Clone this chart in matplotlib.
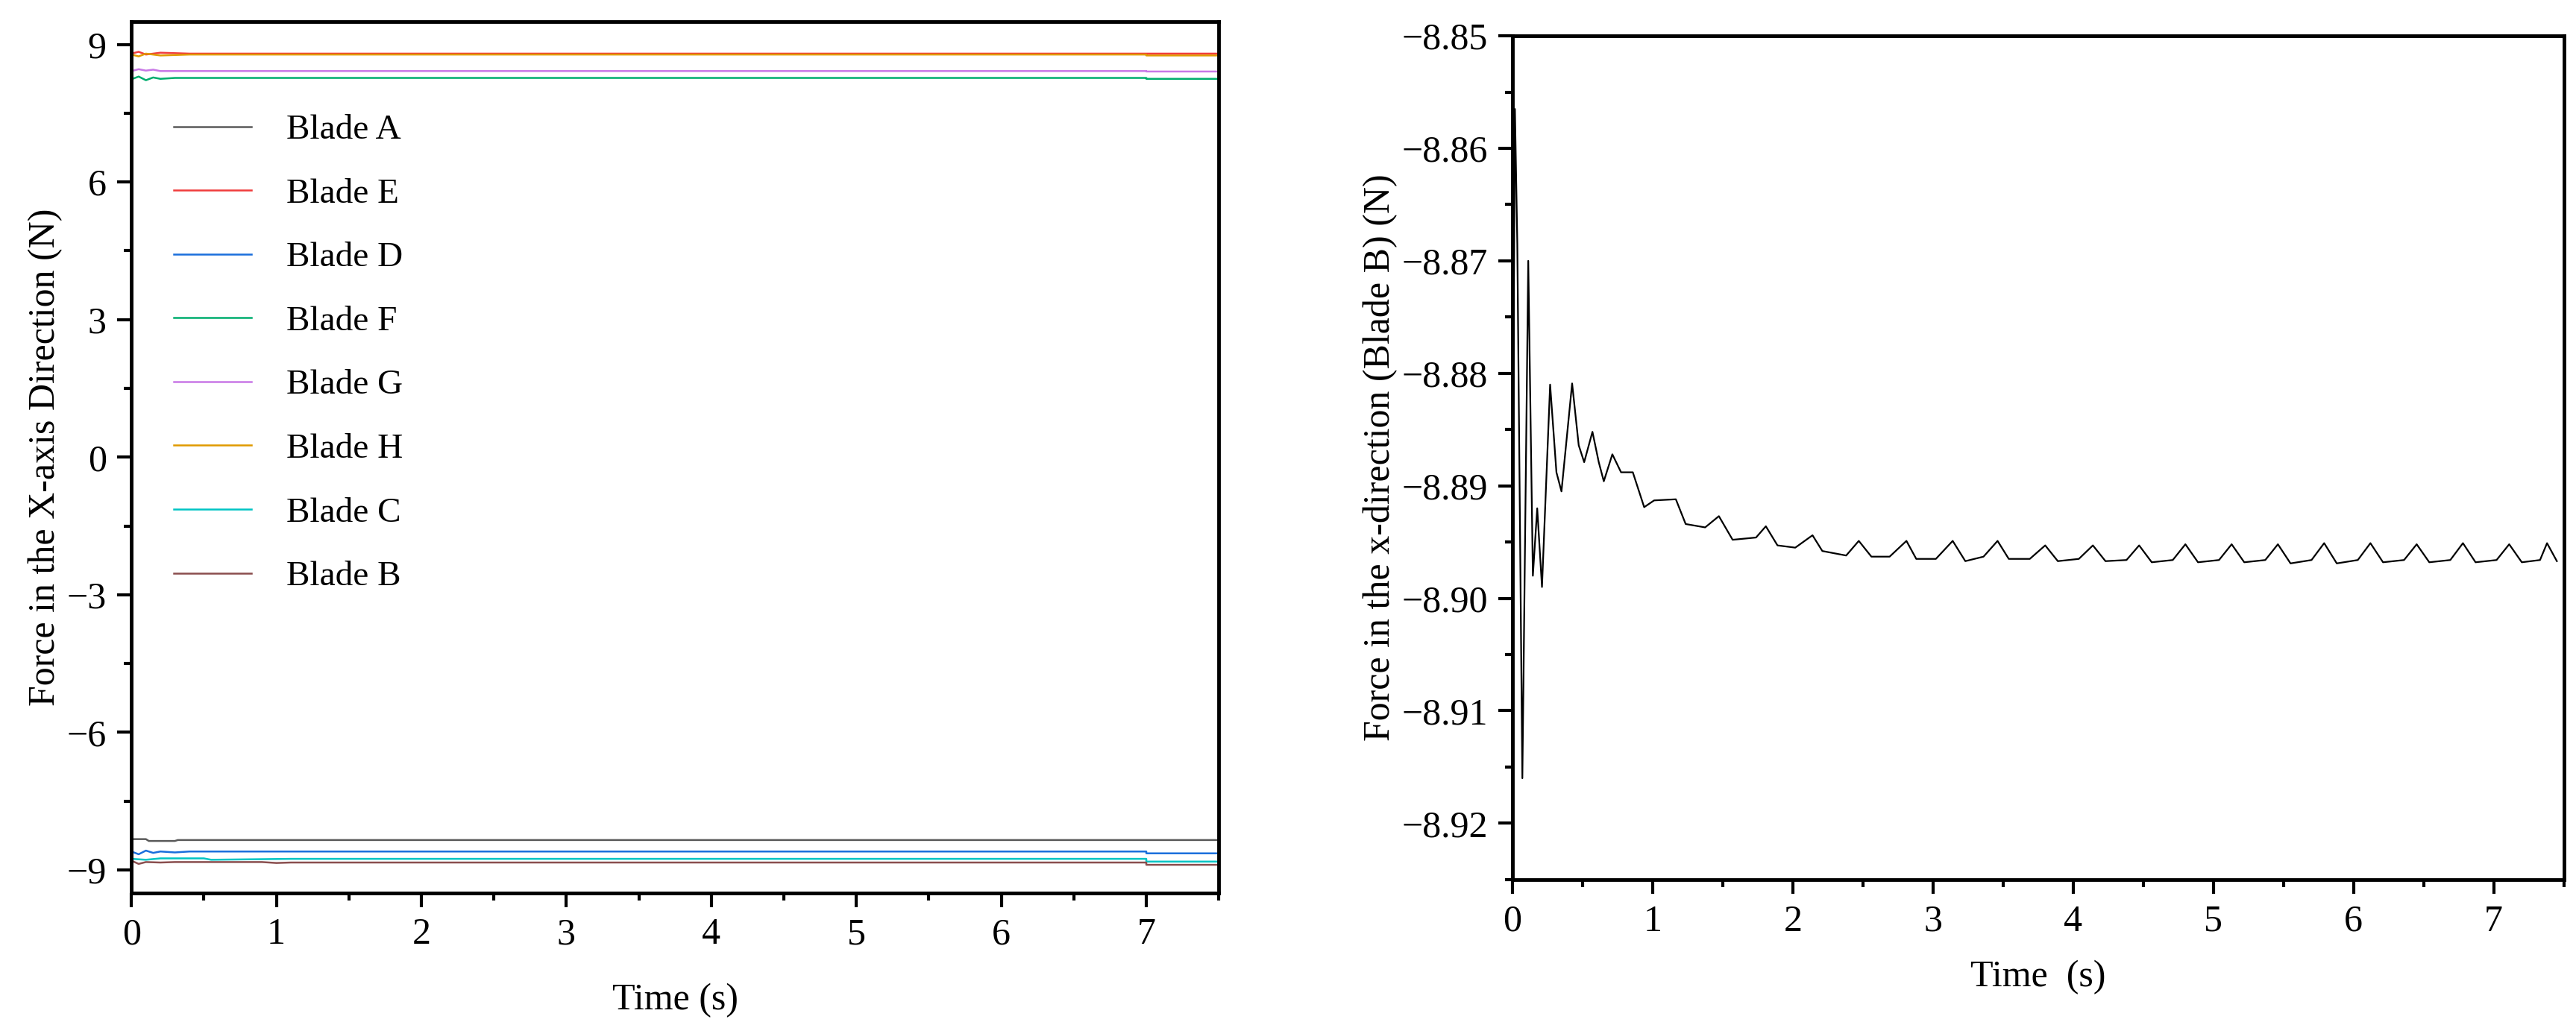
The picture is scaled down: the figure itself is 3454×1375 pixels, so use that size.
import matplotlib.pyplot as plt
from matplotlib.ticker import MultipleLocator

plt.rcParams['font.family'] = ['Liberation Serif', 'DejaVu Serif']
plt.rcParams['font.size'] = 36

# left panel: blade forces, (time, value) keyframes
blades = ['Blade A', 'Blade E', 'Blade D', 'Blade F', 'Blade G', 'Blade H', 'Blade C', 'Blade B']
colors = ['#5a5a5a', '#f03c3c', '#1a6fdc', '#00ad6e', '#c878e6', '#e09a00', '#00c4c4', '#8a4e4e']
blade_t = [
    [0, 0.1, 0.12, 0.3, 0.32, 7.5],
    [0, 0.05, 0.1, 0.2, 0.4, 7.0, 7.0, 7.5],
    [0, 0.05, 0.1, 0.15, 0.2, 0.3, 0.4, 7.0, 7.0, 7.5],
    [0, 0.05, 0.1, 0.15, 0.2, 0.3, 0.6, 7.0, 7.0, 7.5],
    [0, 0.05, 0.1, 0.15, 0.2, 7.0, 7.0, 7.5],
    [0, 0.05, 0.1, 0.2, 0.4, 7.0, 7.0, 7.5],
    [0, 0.1, 0.2, 0.5, 0.55, 1.1, 1.15, 7.0, 7.0, 7.5],
    [0, 0.05, 0.1, 0.2, 0.3, 0.9, 1.0, 1.1, 1.2, 7.0, 7.0, 7.5],
]
blade_y = [
    [-8.33, -8.33, -8.37, -8.37, -8.35, -8.35],
    [8.80, 8.84, 8.78, 8.82, 8.80, 8.80, 8.80, 8.80],
    [-8.60, -8.66, -8.58, -8.63, -8.60, -8.62, -8.60, -8.60, -8.64, -8.64],
    [8.24, 8.30, 8.22, 8.28, 8.25, 8.27, 8.27, 8.27, 8.25, 8.25],
    [8.42, 8.46, 8.43, 8.45, 8.42, 8.42, 8.41, 8.41],
    [8.78, 8.74, 8.80, 8.76, 8.78, 8.78, 8.76, 8.76],
    [-8.76, -8.78, -8.75, -8.75, -8.78, -8.76, -8.76, -8.76, -8.82, -8.82],
    [-8.80, -8.87, -8.83, -8.84, -8.83, -8.83, -8.85, -8.84, -8.84, -8.84, -8.89, -8.89],
]

# right panel: blade B keyframes
b_t = [0, 0.017, 0.034, 0.07, 0.112, 0.145, 0.176, 0.21, 0.268, 0.313, 0.349, 0.425, 0.472,
       0.511, 0.57, 0.615, 0.651, 0.712, 0.774, 0.858, 0.939, 1.01, 1.165, 1.235, 1.374, 1.472,
       1.57, 1.737, 1.807, 1.89, 2.017, 2.14, 2.21, 2.38, 2.47, 2.56, 2.69, 2.81, 2.88, 3.02,
       3.14, 3.23, 3.36, 3.46, 3.54, 3.69, 3.80, 3.89, 4.04, 4.14, 4.23, 4.38, 4.47, 4.56,
       4.71, 4.80, 4.89, 5.04, 5.13, 5.22, 5.37, 5.46, 5.55, 5.70, 5.79, 5.88, 6.03, 6.12,
       6.21, 6.36, 6.45, 6.54, 6.69, 6.78, 6.87, 7.02, 7.11, 7.20, 7.33, 7.38, 7.45]
b_y = [-8.895, -8.8565, -8.8685, -8.916, -8.870, -8.898, -8.892, -8.899, -8.881, -8.8888,
       -8.8905, -8.8809, -8.8864, -8.8879, -8.8852, -8.8879, -8.8896, -8.8872, -8.8888,
       -8.8888, -8.8919, -8.8913, -8.8912, -8.8934, -8.8937, -8.8927, -8.8948, -8.8946,
       -8.8936, -8.8953, -8.8955, -8.8944, -8.8958, -8.8962, -8.8949, -8.8963, -8.8963,
       -8.8949, -8.8965, -8.8965, -8.8949, -8.8967, -8.8963, -8.8949, -8.8965, -8.8965,
       -8.8953, -8.8967, -8.8965, -8.8953, -8.8967, -8.8966, -8.8953, -8.8968, -8.8966,
       -8.8952, -8.8968, -8.8966, -8.8952, -8.8968, -8.8966, -8.8952, -8.8969, -8.8966,
       -8.8951, -8.8969, -8.8966, -8.8951, -8.8968, -8.8966, -8.8952, -8.8968, -8.8966,
       -8.8951, -8.8968, -8.8966, -8.8952, -8.8968, -8.8966, -8.8951, -8.8967]

fig = plt.figure(figsize=(34.55, 13.75), dpi=100)
ax1 = fig.add_axes([0.051, 0.129, 0.422, 0.850])
ax2 = fig.add_axes([0.587, 0.142, 0.408, 0.823])

for name, c, t, y in zip(blades, colors, blade_t, blade_y):
    ax1.plot(t, y, color=c, lw=1.8, label=name)
ax1.set_xlim(0, 7.5)
ax1.set_ylim(-9.5, 9.5)
ax1.yaxis.set_major_locator(MultipleLocator(3))
ax1.yaxis.set_minor_locator(MultipleLocator(1.5))
ax1.set_xlabel('Time (s)', labelpad=30)
ax1.set_ylabel('Force in the X-axis Direction (N)')
ax1.legend(frameon=False, loc='upper left', bbox_to_anchor=(0.01, 0.93),
           fontsize=34, labelspacing=0.9, handlelength=2.2, handletextpad=1.0)

ax2.plot(b_t, b_y, color='black', lw=1.6)
ax2.set_xlim(0, 7.5)
ax2.set_ylim(-8.925, -8.85)
ax2.yaxis.set_major_locator(MultipleLocator(0.01))
ax2.yaxis.set_minor_locator(MultipleLocator(0.005))
ax2.yaxis.set_major_formatter(plt.FuncFormatter(lambda v, p: f'{v:.2f}'.replace('-', '\u2212')))
ax2.set_xlabel('Time  (s)', labelpad=20)
ax2.set_ylabel('Force in the x-direction (Blade B) (N)')

for ax in (ax1, ax2):
    ax.xaxis.set_major_locator(MultipleLocator(1))
    ax.xaxis.set_minor_locator(MultipleLocator(0.5))
    for s in ax.spines.values():
        s.set_linewidth(3.5)
    ax.tick_params(which='major', direction='out', length=14, width=3, labelsize=36, pad=10)
    ax.tick_params(which='minor', direction='out', length=7, width=3)

fig.savefig('out.png', dpi=100)
